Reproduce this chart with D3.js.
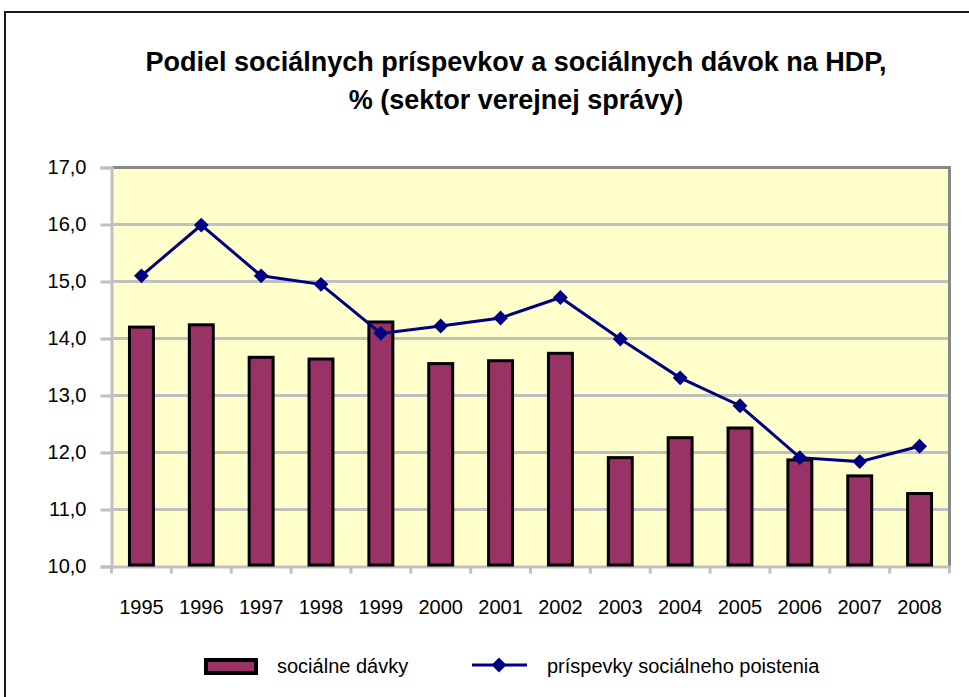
<html>
  <head>
    <script src="https://cdn.jsdelivr.net/npm/d3@7/dist/d3.min.js"></script>
    <style>
      * {
        margin: 0;
        padding: 0;
      }
      body {
        background: white;
        font-family: "Liberation Sans", Arial, sans-serif;
      }
    </style>
  </head>
  <body>
    <div id="chart"></div>
    <script>
      const years = [
        "1995", "1996", "1997", "1998", "1999", "2000", "2001",
        "2002", "2003", "2004", "2005", "2006", "2007", "2008",
      ];
      // sociálne dávky (bars)
      const davky = [
        14.2, 14.24, 13.67, 13.64, 14.29, 13.56, 13.61,
        13.74, 11.91, 12.26, 12.43, 11.87, 11.59, 11.28,
      ];
      // príspevky sociálneho poistenia (line)
      const prispevky = [
        15.1, 15.99, 15.1, 14.95, 14.09, 14.22, 14.36,
        14.72, 13.99, 13.31, 12.82, 11.91, 11.84, 12.11,
      ];
      const yTicks = [10, 11, 12, 13, 14, 15, 16, 17];
      const titleLines = [
        "Podiel sociálnych príspevkov a sociálnych dávok na HDP,",
        "% (sektor verejnej správy)",
      ];
      const seriesNames = ["sociálne dávky", "príspevky sociálneho poistenia"];

      const w = 969;
      const h = 697;
      const plotLeft = 111.5;
      const plotRight = 949.5;
      const plotTop = 167.5;
      const plotBottom = 566.5;

      const svg = d3
        .select("#chart")
        .append("svg")
        .attr("width", w)
        .attr("height", h);

      // outer frame (runs past the window edge like the original)
      svg
        .append("rect")
        .attr("x", 5)
        .attr("y", 12)
        .attr("width", 1000)
        .attr("height", 800)
        .attr("fill", "white")
        .attr("stroke", "#1a1a1a")
        .attr("stroke-width", 2);

      const title = svg
        .append("text")
        .attr("text-anchor", "middle")
        .attr("font-weight", "bold")
        .attr("font-size", 27)
        .attr("fill", "black");
      title
        .selectAll("tspan")
        .data(titleLines)
        .enter()
        .append("tspan")
        .attr("x", 516)
        .attr("y", (d, i) => 71 + i * 38)
        .text((d) => d);

      const xScale = d3.scaleBand().domain(years).range([plotLeft, plotRight]);
      const yScale = d3.scaleLinear().domain([10, 17]).range([plotBottom, plotTop]);
      const sk = d3.formatLocale({
        decimal: ",",
        thousands: " ",
        grouping: [3],
        currency: ["", " €"],
      });

      // plot background
      svg
        .append("rect")
        .attr("x", plotLeft)
        .attr("y", plotTop)
        .attr("width", plotRight - plotLeft)
        .attr("height", plotBottom - plotTop)
        .attr("fill", "#FFFFCC");

      // gridlines
      svg
        .append("g")
        .selectAll("line")
        .data(yTicks.filter((t) => t > 10 && t < 17))
        .enter()
        .append("line")
        .attr("x1", plotLeft)
        .attr("x2", plotRight)
        .attr("y1", (d) => yScale(d))
        .attr("y2", (d) => yScale(d))
        .attr("stroke", "#C0C0C0")
        .attr("stroke-width", 3);

      // top and right border
      svg
        .append("path")
        .attr("d", `M${plotLeft},${yScale(17)}H${plotRight}V${plotBottom}`)
        .attr("fill", "none")
        .attr("stroke", "#888888")
        .attr("stroke-width", 3);

      // y axis
      const yAxis = d3
        .axisLeft(yScale)
        .tickValues(yTicks)
        .tickSize(11)
        .tickPadding(14)
        .tickFormat(sk.format(".1f"));
      const gy = svg
        .append("g")
        .attr("transform", `translate(${plotLeft},0)`)
        .call(yAxis);
      gy.select(".domain").attr("stroke", "#C0C0C0").attr("stroke-width", 3);
      gy.selectAll(".tick line").attr("stroke", "#C0C0C0").attr("stroke-width", 3);
      gy.selectAll(".tick text")
        .attr("font-family", "Liberation Sans")
        .attr("font-size", 20)
        .attr("fill", "black");

      // x axis
      const xAxis = d3.axisBottom(xScale).tickSize(0).tickPadding(33);
      const gx = svg
        .append("g")
        .attr("transform", `translate(0,${plotBottom})`)
        .call(xAxis);
      gx.select(".domain").attr("stroke", "#C0C0C0").attr("stroke-width", 3);
      gx.selectAll(".tick text")
        .attr("font-family", "Liberation Sans")
        .attr("font-size", 20)
        .attr("fill", "black");
      gx.selectAll("line.sep")
        .data(years.concat(["end"]))
        .enter()
        .append("line")
        .attr("class", "sep")
        .attr("x1", (d) => (d === "end" ? plotRight : xScale(d)))
        .attr("x2", (d) => (d === "end" ? plotRight : xScale(d)))
        .attr("y1", 0)
        .attr("y2", 7)
        .attr("stroke", "#C0C0C0")
        .attr("stroke-width", 3);

      // bars
      const barW = xScale.bandwidth() * 0.4;
      svg
        .append("g")
        .selectAll("rect")
        .data(davky)
        .enter()
        .append("rect")
        .attr("x", (d, i) => xScale(years[i]) + xScale.bandwidth() / 2 - barW / 2)
        .attr("y", (d) => yScale(d))
        .attr("width", barW)
        .attr("height", (d) => plotBottom - yScale(d) - 1.5)
        .attr("fill", "#993366")
        .attr("stroke", "black")
        .attr("stroke-width", 3);

      // line
      const cx = (i) => xScale(years[i]) + xScale.bandwidth() / 2;
      const line = d3
        .line()
        .x((d, i) => cx(i))
        .y((d) => yScale(d));
      svg
        .append("path")
        .datum(prispevky)
        .attr("d", line)
        .attr("fill", "none")
        .attr("stroke", "#000080")
        .attr("stroke-width", 3);

      const diamond = d3.symbol().type(d3.symbolSquare).size(110);
      svg
        .append("g")
        .selectAll("path")
        .data(prispevky)
        .enter()
        .append("path")
        .attr("d", diamond)
        .attr("transform", (d, i) => `translate(${cx(i)},${yScale(d)}) rotate(45)`)
        .attr("fill", "#000080");

      // legend
      const legend = svg.append("g");
      legend
        .append("rect")
        .attr("x", 206)
        .attr("y", 660)
        .attr("width", 50)
        .attr("height", 13)
        .attr("fill", "#993366")
        .attr("stroke", "black")
        .attr("stroke-width", 4);
      legend
        .append("text")
        .attr("x", 277)
        .attr("y", 673)
        .attr("font-size", 20)
        .text(seriesNames[0]);
      legend
        .append("line")
        .attr("x1", 472)
        .attr("x2", 527)
        .attr("y1", 665)
        .attr("y2", 665)
        .attr("stroke", "#000080")
        .attr("stroke-width", 3);
      legend
        .append("path")
        .attr("d", diamond)
        .attr("transform", "translate(499,665) rotate(45)")
        .attr("fill", "#000080");
      legend
        .append("text")
        .attr("x", 547)
        .attr("y", 673)
        .attr("font-size", 20)
        .text(seriesNames[1]);
    </script>
  </body>
</html>
